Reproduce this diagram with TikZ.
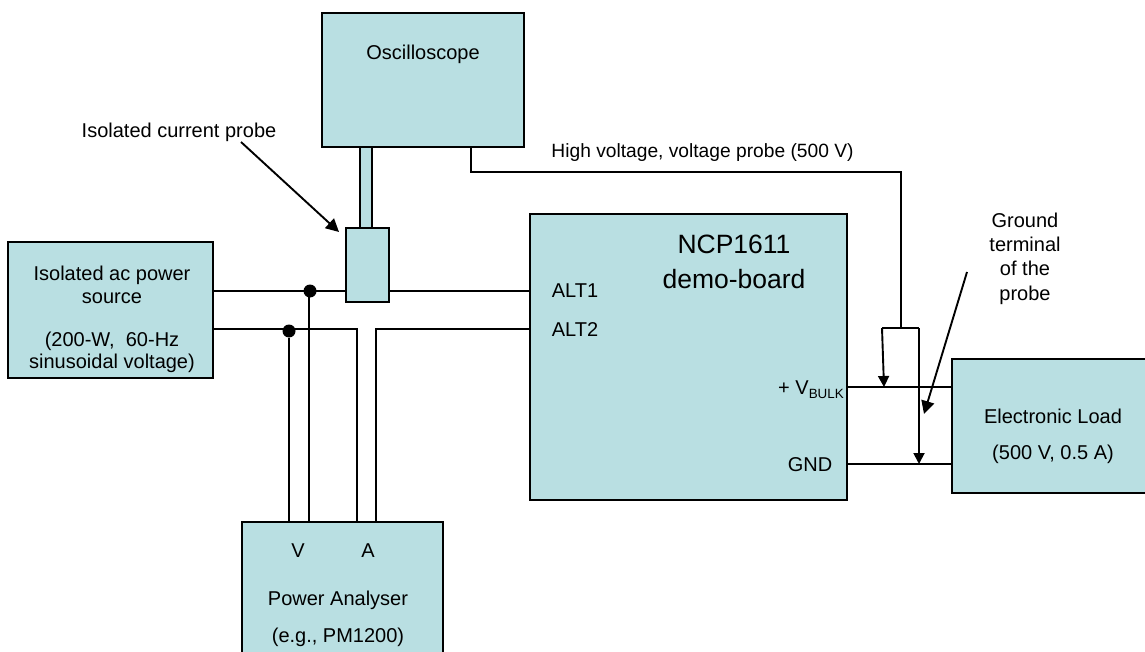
\documentclass[tikz,border=0pt]{standalone}
\usepackage{fontspec}
\setmainfont{Liberation Sans}
\usetikzlibrary{arrows.meta}
\definecolor{boxfill}{HTML}{B9DFE2}
\tikzset{
    blockbox/.style={draw=black,fill=boxfill,line width=2.2pt,inner sep=0pt,outer sep=0pt},
    wire/.style={draw=black,line width=1.9pt},
    pointer/.style={wire,-{Triangle[length=11pt,width=11pt]}},
    callout/.style={wire,-{Triangle[length=13pt,width=13pt]}},
    lbl/.style={inner sep=0pt,anchor=base,font=\fontsize{20}{24}\selectfont},
    bigtxt/.style={lbl,font=\fontsize{26.5}{30}\selectfont},
    joint/.style={circle,fill=black,inner sep=0pt,minimum size=13pt}
}
\begin{document}
\begin{tikzpicture}[x=1pt,y=-1pt]
    \clip (0,0) rectangle (1145,652);
    \fill[white] (0,0) rectangle (1145,652);
    % blocks
    \node[blockbox,minimum width=202pt,minimum height=134pt] (scope) at (423,80) {};
    \node[blockbox,minimum width=12.5pt,minimum height=81pt] (stem) at (366,187.5) {};
    \node[blockbox,minimum width=43pt,minimum height=74pt] (probe) at (367.5,265) {};
    \node[blockbox,minimum width=205pt,minimum height=136pt] (source) at (110.5,310) {};
    \node[blockbox,minimum width=317pt,minimum height=286pt] (board) at (688.5,357) {};
    \node[blockbox,minimum width=210pt,minimum height=134pt] (load) at (1057,426) {};
    \node[blockbox,minimum width=201pt,minimum height=150pt] (meter) at (342.5,597) {};
    % junctions and probe tips
    \node[joint] (dotone) at (310,291) {};
    \node[joint] (dottwo) at (289,331) {};
    \coordinate (acone) at (0,291);
    \coordinate (actwo) at (0,329);
    \coordinate (vtap) at (309,291);
    \coordinate (bulk) at (884,387);
    \coordinate (gnd) at (919,464);
    \coordinate (scopeout) at (471,172);
    \coordinate (split) at (901,328);
    \coordinate (hotend) at (882,328);
    \coordinate (gndend) at (919,328);
    \coordinate (metera) at (357,329);
    \coordinate (meterb) at (376,329);
    % mains wiring
    \draw[wire] (source.east |- acone) -- (probe.west |- acone);
    \draw[wire] (probe.east |- acone) -- (board.west |- acone);
    \draw[wire] (source.east |- actwo) -- (metera) -- (metera |- meter.north);
    \draw[wire] (board.west |- actwo) -- (meterb) -- (meterb |- meter.north);
    \draw[wire] (vtap) -- (vtap |- meter.north);
    \draw[wire] (dottwo) -- (dottwo |- meter.north);
    % output wiring
    \draw[wire] (board.east |- bulk) -- (load.west |- bulk);
    \draw[wire] (board.east |- gnd) -- (load.west |- gnd);
    \draw[wire] (scopeout |- scope.south) -- (scopeout) -- (split |- scopeout) -- (split);
    \draw[wire] (hotend) -- (gndend);
    \draw[pointer] (hotend) -- (bulk);
    \draw[pointer] (gndend) -- (gnd);
    % callouts
    \node[lbl] (probetxt) at (179,138) {Isolated current probe};
    \node[lbl,font=\fontsize{19.2}{24}\selectfont] (hvtxt) at (702.5,158) {High voltage, voltage probe (500 V)};
    \node[lbl] (gt1) at (1025,228) {Ground};
    \node[lbl] (gt2) at (1025,252) {terminal};
    \node[lbl] (gt3) at (1025,276) {of the};
    \node[lbl] (gt4) at (1025,300) {probe};
    \coordinate (probetail) at (241,142);
    \coordinate (probehead) at (339,232);
    \coordinate (gttail) at (967,272);
    \coordinate (gthead) at (924,414);
    \draw[callout] (probetail) -- (probehead);
    \draw[callout] (gttail) -- (gthead);
    % block texts
    \node[lbl] (scopetxt) at (423,60) {Oscilloscope};
    \node[lbl] (src1) at (112,280) {Isolated ac power};
    \node[lbl] (src2) at (112,303) {source};
    \node[lbl] (src3) at (112,346) {(200-W,\ \ 60-Hz};
    \node[lbl] (src4) at (112,368) {sinusoidal voltage)};
    \node[bigtxt] (nametxt) at (734,254) {NCP1611};
    \node[bigtxt] (demotxt) at (734,288) {demo-board};
    \node[lbl] (altone) at (575,298) {ALT1};
    \node[lbl] (alttwo) at (575,336) {ALT2};
    \node[lbl,anchor=base east] (bulktxt) at (844,394) {+ V\raisebox{-4pt}{\fontsize{13.4}{15}\selectfont BULK}};
    \node[lbl] (gndtxt) at (810,471) {GND};
    \node[lbl] (loadtxt) at (1053,423) {Electronic Load};
    \node[lbl] (ratetxt) at (1053,459) {(500 V, 0.5 A)};
    \node[lbl] (vtxt) at (298,557) {V};
    \node[lbl] (atxt) at (368,557) {A};
    \node[lbl] (metertxt) at (338,605) {Power Analyser};
    \node[lbl] (modeltxt) at (338,642) {(e.g., PM1200)};
\end{tikzpicture}
\end{document}
